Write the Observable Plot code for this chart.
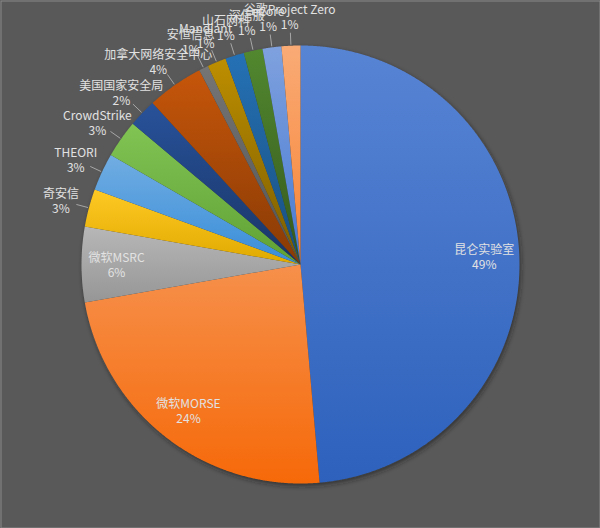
<!DOCTYPE html>
<html><head><meta charset="utf-8">
<script src="https://cdn.jsdelivr.net/npm/d3@7"></script>
<script src="https://cdn.jsdelivr.net/npm/@observablehq/plot@0.6"></script>
<style>
html,body{margin:0;padding:0;background:#595959;}
#chart svg{display:block;}
</style></head><body><div id="chart"></div>
<script>
const names = ["昆仑实验室","微软MORSE","微软MSRC","奇安信","THEORI","CrowdStrike","美国国家安全局","加拿大网络安全中心","安恒信息","Mandiant","山石网科","深信服","eCore","谷歌Project Zero"];
const counts = [70,34,8,4,4,4,3,6,1,2,2,2,2,2];
const colors = ["#4472C4","#ED7D31","#A5A5A5","#FFC000","#5B9BD5","#70AD47","#264478","#9E480E","#636363","#997300","#255E91","#43682B","#698ED0","#F1975A"];

const W = 600, H = 528, R = 219;
const total = d3.sum(counts);
const arcs = d3.pie().sort(null).value(d => d)(counts);

// polygon points for each slice
const pts = [];
arcs.forEach((p, i) => {
  const n = Math.max(2, Math.ceil((p.endAngle - p.startAngle) / 0.004));
  pts.push({i, x: 0, y: 0});
  for (let k = 0; k <= n; k++) {
    const a = p.startAngle + (p.endAngle - p.startAngle) * k / n;
    pts.push({i, x: R * Math.sin(a), y: -R * Math.cos(a)});
  }
});

const labels = arcs.map((p, i) => {
  const mid = (p.startAngle + p.endAngle) / 2;
  const inside = counts[i] / total > 0.05;
  const rr = inside ? 0.84 * R : R + 29;
  return {
    i, inside,
    x: rr * Math.sin(mid), y: -rr * Math.cos(mid),
    x1: (R + 13) * Math.sin(mid), y1: -(R + 13) * Math.cos(mid),
    x2: (R + 1) * Math.sin(mid), y2: -(R + 1) * Math.cos(mid),
    text: names[i] + "\n" + Math.round(100 * counts[i] / total) + "%"
  };
});

const sliceMarks = arcs.map((p, i) =>
  Plot.line(pts.filter(d => d.i === i), {x: "x", y: "y", fill: `url(#g${i})`, stroke: "none", curve: "linear"})
);

const chart = Plot.plot({
  width: W, height: H,
  margin: 0,
  x: {domain: [-300, 300], range: [0, W], axis: null},
  y: {domain: [-264, 264], range: [0, H], axis: null},
  style: {background: "#595959", fontFamily: "'Noto Sans CJK SC', sans-serif"},
  marks: [
    Plot.frame({stroke: "#8a8a8a", inset: 0.5}),
    Plot.dot([{x: 0, y: 0}], {x: "x", y: "y", r: R, fill: "#1a1a1a", fillOpacity: 0.6, stroke: "none"}),
    ...sliceMarks,
    Plot.link(labels.filter(d => !d.inside), {x1: "x1", y1: "y1", x2: "x2", y2: "y2", stroke: "#a6a6a6", strokeWidth: 1}),
    Plot.text(labels, {x: "x", y: "y", text: "text", fill: "#e2e2e2", fontSize: 12, lineHeight: 1.25, fontFamily: "'Noto Sans CJK SC', sans-serif"})
  ]
});

// gradient definitions + shadow filter
const svgns = "http://www.w3.org/2000/svg";
const defs = document.createElementNS(svgns, "defs");
colors.forEach((c, i) => {
  const g = document.createElementNS(svgns, "linearGradient");
  g.setAttribute("id", "g" + i);
  g.setAttribute("x1", "0"); g.setAttribute("y1", "0");
  g.setAttribute("x2", "0"); g.setAttribute("y2", "1");
  const h = d3.hsl(c);
  const top = d3.hsl(h.h, Math.min(1, h.s + 0.07), Math.min(1, h.l + 0.07));
  const bot = d3.hsl(h.h, Math.min(1, h.s + 0.09), Math.max(0, h.l - 0.06));
  [[0, top], [1, bot]].forEach(([o, col]) => {
    const s = document.createElementNS(svgns, "stop");
    s.setAttribute("offset", o);
    s.setAttribute("stop-color", col.formatHex());
    g.appendChild(s);
  });
  defs.appendChild(g);
});
const f = document.createElementNS(svgns, "filter");
f.setAttribute("id", "sh");
f.setAttribute("x", "-20%"); f.setAttribute("y", "-20%");
f.setAttribute("width", "140%"); f.setAttribute("height", "140%");
const blur = document.createElementNS(svgns, "feGaussianBlur");
blur.setAttribute("stdDeviation", "2.5");
f.appendChild(blur);
defs.appendChild(f);
chart.insertBefore(defs, chart.firstChild);
const dotG = chart.querySelector('g[aria-label="dot"]');
if (dotG) dotG.setAttribute("transform", "translate(2,3)"), dotG.setAttribute("filter", "url(#sh)");

document.getElementById("chart").appendChild(chart);
</script>
</body></html>
